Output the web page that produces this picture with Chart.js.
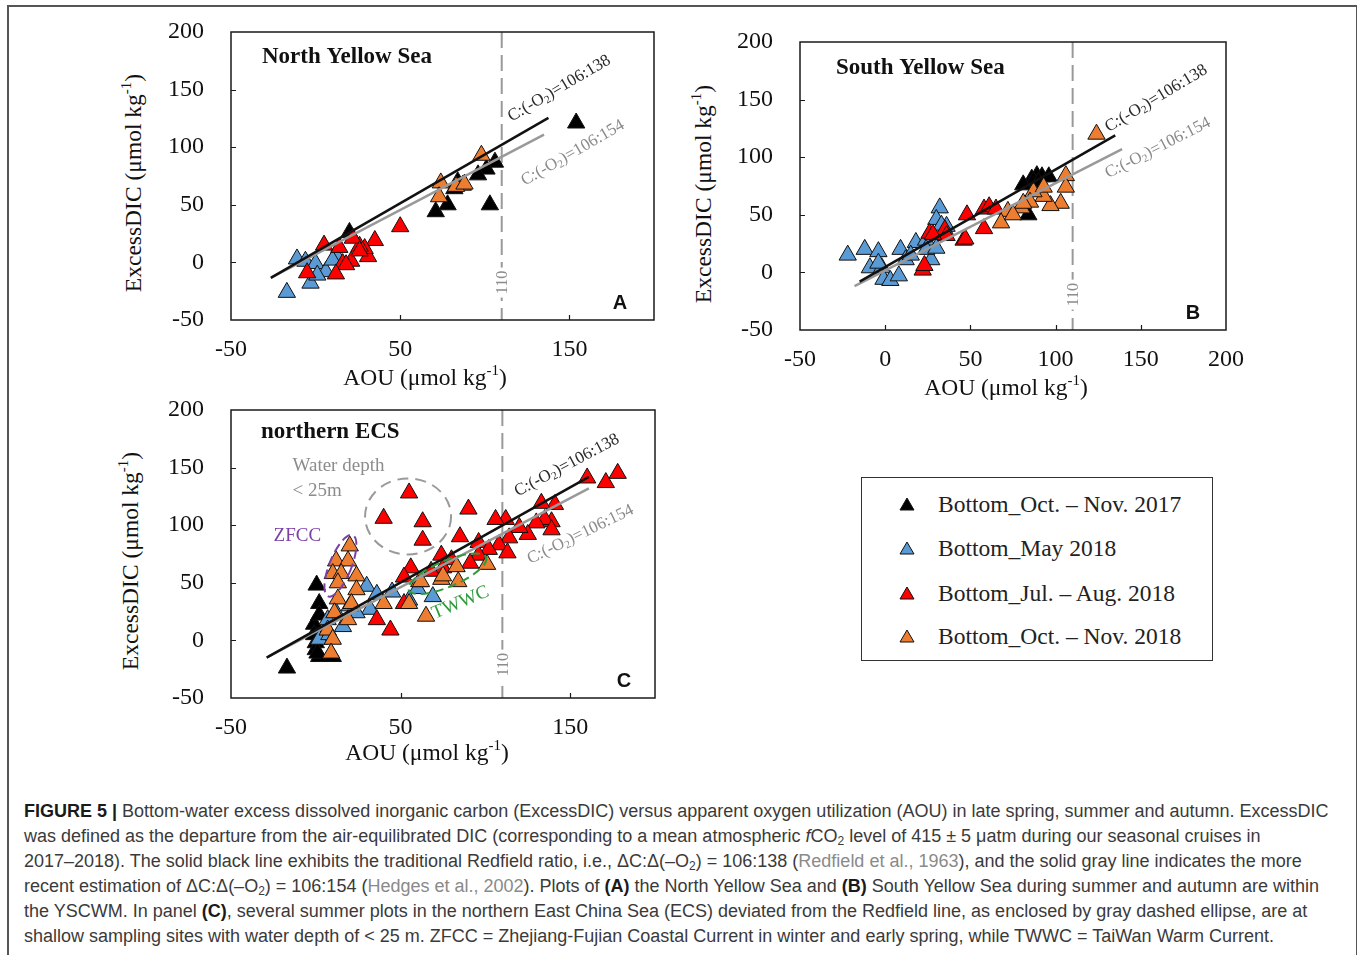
<!DOCTYPE html>
<html>
<head>
<meta charset="utf-8">
<script src="https://cdn.jsdelivr.net/npm/chart.js@4.4.1/dist/chart.umd.min.js"></script>
<style>
  body { margin:0; background:#fff; width:1357px; height:955px; overflow:hidden; position:relative; font-family:'Liberation Serif', 'Times New Roman', serif; }
  .frame { position:absolute; left:7px; top:5px; width:1347px; height:980px; border:2px solid #555; }
  .panel { position:absolute; }
  .xtitle { position:absolute; font-size:23.5px; color:#111; white-space:nowrap; transform:translate(-50%,-50%); }
  .ytitle { position:absolute; font-size:23.5px; color:#111; white-space:nowrap; transform:translate(-50%,-50%) rotate(-90deg); }
  .xtitle sup, .ytitle sup { font-size:15px; vertical-align:0; position:relative; top:-10px; }
  .legend { position:absolute; left:861px; top:477px; width:350px; height:182px; border:1.5px solid #333; }
  .legend .row { position:absolute; left:0; height:30px; display:flex; align-items:center; font-size:23.5px; color:#222; white-space:nowrap; }
  .legend svg { margin-left:37px; margin-right:23px; }
  .caption { position:absolute; left:24px; top:799px; font-family:'Liberation Sans', Arial, sans-serif; font-size:18px; color:#3a3a3a; }
  .caption div { height:25px; line-height:25px; white-space:nowrap; }
  .caption b { color:#1a1a1a; }
  .caption .ref { color:#8a8a8a; }
  .caption sub { font-size:12px; vertical-align:-3px; line-height:0; }
</style>
</head>
<body>
<div class="frame"></div>

<div class="panel" style="left:150px;top:16px;"><canvas id="nys" width="534" height="349"></canvas></div>
<div class="panel" style="left:719px;top:26px;"><canvas id="sys" width="537" height="349"></canvas></div>
<div class="panel" style="left:150px;top:394px;"><canvas id="necs" width="535" height="349"></canvas></div>

<div class="xtitle" style="left:425px;top:377px;">AOU (μmol kg<sup>-1</sup>)</div>
<div class="xtitle" style="left:1006px;top:387px;">AOU (μmol kg<sup>-1</sup>)</div>
<div class="xtitle" style="left:427px;top:752px;">AOU (μmol kg<sup>-1</sup>)</div>
<div class="ytitle" style="left:133px;top:183px;">ExcessDIC (μmol kg<sup>-1</sup>)</div>
<div class="ytitle" style="left:703px;top:194px;">ExcessDIC (μmol kg<sup>-1</sup>)</div>
<div class="ytitle" style="left:130px;top:561px;">ExcessDIC (μmol kg<sup>-1</sup>)</div>

<div class="legend" id="legend"></div>

<div class="caption">
  <div><b>FIGURE 5 |</b> Bottom-water excess dissolved inorganic carbon (ExcessDIC) versus apparent oxygen utilization (AOU) in late spring, summer and autumn. ExcessDIC</div>
  <div>was defined as the departure from the air-equilibrated DIC (corresponding to a mean atmospheric <i>f</i>CO<sub>2</sub> level of 415 ± 5 μatm during our seasonal cruises in</div>
  <div>2017–2018). The solid black line exhibits the traditional Redfield ratio, i.e., ΔC:Δ(–O<sub>2</sub>) = 106:138 (<span class="ref">Redfield et al., 1963</span>), and the solid gray line indicates the more</div>
  <div>recent estimation of ΔC:Δ(–O<sub>2</sub>) = 106:154 (<span class="ref">Hedges et al., 2002</span>). Plots of <b>(A)</b> the North Yellow Sea and <b>(B)</b> South Yellow Sea during summer and autumn are within</div>
  <div>the YSCWM. In panel <b>(C)</b>, several summer plots in the northern East China Sea (ECS) deviated from the Redfield line, as enclosed by gray dashed ellipse, are at</div>
  <div>shallow sampling sites with water depth of &lt; 25 m. ZFCC = Zhejiang-Fujian Coastal Current in winter and early spring, while TWWC = TaiWan Warm Current.</div>
</div>

<script>
// ---- Bottom-water samples: [AOU, ExcessDIC] in µmol kg-1 ----
// North Yellow Sea
const nysOct2017   = [[154,121],[106,87],[101,81],[96,76],[84,70],[82,64],[78,50],[71,44],[103,50],[20,26]];
const nysMay2018   = [[-17,-26],[-11,3],[-6,1],[0,-1],[-3,-18],[6,-8],[13,4],[1,-11],[10,2]];
const nysJulAug2018 = [[50,31],[35,19],[31,5],[29,12],[26,14],[22,21],[21,1],[16,-1],[18,-2],[14,13],[5,15],[12,-10],[-5,-9],[26,10]];
const nysOct2018   = [[98,93],[74,69],[73,57],[87,67],[83,66],[88,68]];

// South Yellow Sea
const sysOct2017   = [[89,84],[86,81],[92,83],[96,83],[84,50],[87,79],[81,76],[90,78]];
const sysMay2018   = [[-22,15],[-12,20],[-4,18],[-9,4],[-2,4],[-1,-6],[3,-7],[8,-3],[9,20],[12,11],[18,26],[24,28],[27,11],[24,20],[32,56],[30,46],[36,40],[30,21],[33,41],[15,15],[-4,8]];
const sysJulAug2018 = [[26,34],[22,2],[35,37],[46,28],[48,50],[58,55],[61,57],[58,38],[47,29],[36,32],[65,55],[23,6],[28,33]];
const sysOct2018   = [[124,120],[106,84],[106,74],[103,60],[97,58],[93,66],[87,70],[85,61],[80,56],[72,53],[68,43],[81,60],[93,74],[75,50]];

// northern East China Sea
const necsOct2017   = [[0.5,48],[2,32],[-1,14],[0,-2],[0,-8],[2,-14],[10,-14],[-17,-24],[2,22],[-1,5],[1,-11]];
const necsMay2018   = [[30,47],[45,42],[32,27],[24,24],[12,24],[16,12],[7,18],[69,38],[2,1],[60,45],[36,40],[20,30],[55,35],[8,5]];
const necsJulAug2018 = [[55,128],[40,106],[63,103],[63,87],[36,18],[44,9],[56,63],[52,32],[75,63],[52,55],[178,145],[171,137],[160,141],[141,118],[133,119],[139,103],[135,105],[139,96],[130,102],[125,92],[120,98],[112,105],[106,105],[90,114],[85,90],[114,89],[108,83],[113,76],[96,85],[102,79],[96,74],[91,67],[74,74],[80,70],[68,60]];
const necsOct2018   = [[20,82],[12,69],[19,69],[10,58],[15,58],[24,56],[13,50],[24,44],[13,36],[21,32],[40,32],[19,18],[11,24],[7,9],[10,1],[9,-11],[55,32],[65,21],[61,51],[74,53],[83,64],[101,66],[75,56],[62,51],[84,51]];

// ---- Reference ratio lines (end points) ----
const nysRedfield138  = [[-26.5,-13.4],[137.6,125.4]];
const nysHedges154    = [[-26,-13],[135,111]];
const sysRedfield138  = [[-15,-8],[135,119]];
const sysHedges154    = [[-18,-12],[139,107]];
const necsRedfield138 = [[-29,-15],[161,142]];
const necsHedges154   = [[-28,-14],[161,132]];

// ---- Axis ticks ----
const aouTicksWide = [-50, 50, 150];
const aouTicksFine = [-50, 0, 50, 100, 150, 200];
const dicTicks = [-50, 0, 50, 100, 150, 200];
const aouLimit = 110;

const seriesNames = ['Bottom_Oct. – Nov. 2017', 'Bottom_May 2018', 'Bottom_Jul. – Aug. 2018', 'Bottom_Oct. – Nov. 2018'];
const seriesFill  = ['#000000', '#5b9bd5', '#ff0000', '#ed7d31'];

const SERIF = "'Liberation Serif', 'Times New Roman', serif";
const SANS = "'Liberation Sans', Arial, sans-serif";

function pts(arr) { return arr.map(([x, y]) => ({ x, y })); }

function drawRatioLabel(ctx, cx, cy, angleDeg, ratio, color) {
  const big = '17px ' + SERIF, small = '11px ' + SERIF;
  const parts = [['C:(-O', big, 0], ['2', small, 4], [')=' + ratio, big, 0]];
  ctx.save();
  let total = 0;
  parts.forEach(p => { ctx.font = p[1]; total += ctx.measureText(p[0]).width; });
  ctx.translate(cx, cy);
  ctx.rotate(angleDeg * Math.PI / 180);
  ctx.fillStyle = color;
  ctx.textBaseline = 'middle';
  ctx.textAlign = 'left';
  let xo = -total / 2;
  parts.forEach(p => { ctx.font = p[1]; ctx.fillText(p[0], xo, p[2]); xo += ctx.measureText(p[0]).width; });
  ctx.restore();
}

function decoPlugin(d) {
  return {
    id: 'deco_' + d.letter,
    beforeDatasetsDraw(chart) {
      const { ctx, chartArea: a, scales: { x } } = chart;
      ctx.save();
      // AOU = 110 dashed marker
      const px = x.getPixelForValue(aouLimit);
      ctx.strokeStyle = '#999';
      ctx.lineWidth = 2;
      ctx.setLineDash([16, 7]);
      ctx.beginPath(); ctx.moveTo(px, a.top); ctx.lineTo(px, a.bottom); ctx.stroke();
      ctx.restore();
    },
    afterDatasetsDraw(chart) {
      const { ctx, chartArea: a, scales: { x, y } } = chart;
      ctx.save();
      // enclosing ellipses
      (d.ellipses || []).forEach(e => {
        ctx.strokeStyle = e.color;
        ctx.lineWidth = 2;
        ctx.setLineDash(e.dash);
        ctx.beginPath();
        ctx.ellipse(x.getPixelForValue(e.cx), y.getPixelForValue(e.cy), e.rx, e.ry, e.rot * Math.PI / 180, 0, Math.PI * 2);
        ctx.stroke();
      });
      ctx.setLineDash([]);

      // frame and inside tick marks
      ctx.strokeStyle = '#1a1a1a';
      ctx.lineWidth = 1.5;
      ctx.strokeRect(a.left, a.top, a.right - a.left, a.bottom - a.top);
      ctx.lineWidth = 1.2;
      ctx.beginPath();
      d.xTicks.forEach(v => { const p = Math.round(x.getPixelForValue(v)) + 0.5; if (p > a.left + 2 && p < a.right - 2) { ctx.moveTo(p, a.bottom); ctx.lineTo(p, a.bottom - 5); } });
      dicTicks.forEach(v => { const p = Math.round(y.getPixelForValue(v)) + 0.5; if (p > a.top + 2 && p < a.bottom - 2) { ctx.moveTo(a.left, p); ctx.lineTo(a.left + 5, p); } });
      ctx.stroke();

      // "110" label on the dashed marker
      const lx = x.getPixelForValue(aouLimit), ly = y.getPixelForValue(d.limitLabelY);
      ctx.fillStyle = '#fff';
      ctx.fillRect(lx - 8, ly - 15, 16, 30);
      ctx.translate(lx, ly);
      ctx.rotate(-Math.PI / 2);
      ctx.fillStyle = '#8c8c8c';
      ctx.font = '16px ' + SERIF;
      ctx.textAlign = 'center';
      ctx.textBaseline = 'middle';
      ctx.fillText('110', 0, 1);
      ctx.setTransform(1, 0, 0, 1, 0, 0);

      // ratio labels
      drawRatioLabel(ctx, x.getPixelForValue(d.blackLabel[0]), y.getPixelForValue(d.blackLabel[1]), d.blackLabel[2], '106:138', '#2a2a2a');
      drawRatioLabel(ctx, x.getPixelForValue(d.grayLabel[0]), y.getPixelForValue(d.grayLabel[1]), d.grayLabel[2], '106:154', '#8a8a8a');

      // extra annotations
      (d.notes || []).forEach(n => {
        ctx.save();
        ctx.translate(x.getPixelForValue(n.x), y.getPixelForValue(n.y));
        ctx.rotate((n.rot || 0) * Math.PI / 180);
        ctx.fillStyle = n.color;
        ctx.font = n.size + 'px ' + SERIF;
        ctx.textAlign = n.align || 'left';
        ctx.textBaseline = 'middle';
        ctx.fillText(n.text, 0, 0);
        ctx.restore();
      });

      // panel title and letter
      ctx.fillStyle = '#111';
      ctx.font = 'bold 23px ' + SERIF;
      ctx.textAlign = 'left';
      ctx.textBaseline = 'middle';
      ctx.fillText(d.title, a.left + d.titleDx, a.top + d.titleDy);
      ctx.font = 'bold 20px ' + SANS;
      ctx.textAlign = 'center';
      ctx.fillText(d.letter, a.right - d.letterDx, a.bottom - 17);
      ctx.restore();
    }
  };
}

function makePanel(id, series, redfield, hedges, d) {
  const datasets = [];
  [redfield, hedges].forEach((ln, i) => {
    datasets.push({
      data: pts(ln), showLine: true, pointRadius: 0, borderColor: i ? '#999999' : '#111111',
      borderWidth: 2.5, order: -1, fill: false
    });
  });
  series.forEach((s, i) => {
    datasets.push({
      label: seriesNames[i], data: pts(s), pointStyle: 'triangle', pointRadius: 10,
      backgroundColor: seriesFill[i], borderColor: '#111', borderWidth: 1, showLine: false,
      order: 3 - i
    });
  });
  new Chart(document.getElementById(id), {
    type: 'scatter',
    data: { datasets },
    options: {
      responsive: false, animation: false, events: [],
      layout: { padding: { left: 0, top: 16, right: 30, bottom: 0 } },
      plugins: { legend: { display: false }, tooltip: { enabled: false } },
      scales: {
        x: {
          type: 'linear', min: -50, max: 200,
          afterBuildTicks: s => { s.ticks = d.xTicks.map(v => ({ value: v })); },
          afterFit: s => { s.height = 45; s.paddingLeft = 0; s.paddingRight = 0; },
          grid: { display: false, drawTicks: false }, border: { display: false },
          ticks: { autoSkip: false, maxRotation: 0, padding: 15, color: '#111', font: { family: SERIF, size: 24 } }
        },
        y: {
          type: 'linear', min: -50, max: 200,
          afterBuildTicks: s => { s.ticks = dicTicks.map(v => ({ value: v })); },
          afterFit: s => { s.width = 81; s.paddingTop = 0; s.paddingBottom = 0; },
          grid: { display: false, drawTicks: false }, border: { display: false },
          ticks: { autoSkip: false, padding: 27, color: '#111', font: { family: SERIF, size: 24 } }
        }
      }
    },
    plugins: [decoPlugin(d)]
  });
}

makePanel('nys', [nysOct2017, nysMay2018, nysJulAug2018, nysOct2018], nysRedfield138, nysHedges154, {
  letter: 'A', title: 'North Yellow Sea', titleDx: 31, titleDy: 25, letterDx: 34,
  xTicks: aouTicksWide, limitLabelY: -17.5,
  blackLabel: [144, 151, -30.5], grayLabel: [152, 95, -30]
});
makePanel('sys', [sysOct2017, sysMay2018, sysJulAug2018, sysOct2018], sysRedfield138, sysHedges154, {
  letter: 'B', title: 'South Yellow Sea', titleDx: 36, titleDy: 26, letterDx: 33,
  xTicks: aouTicksFine, limitLabelY: -19.3,
  blackLabel: [159, 151, -31], grayLabel: [160, 108, -27]
});
makePanel('necs', [necsOct2017, necsMay2018, necsJulAug2018, necsOct2018], necsRedfield138, necsHedges154, {
  letter: 'C', title: 'northern ECS', titleDx: 30, titleDy: 22, letterDx: 31,
  xTicks: aouTicksWide, limitLabelY: -21,
  blackLabel: [148, 152, -28], grayLabel: [156, 92, -26],
  ellipses: [
    { cx: 54.4, cy: 107.6, rx: 43, ry: 38, rot: 0, color: '#9a9a9a', dash: [11, 7] },
    { cx: 14.5, cy: 64.8, rx: 11, ry: 33, rot: 22, color: '#7b3fa6', dash: [9, 5] },
    { cx: 77.6, cy: 57.9, rx: 42, ry: 13, rot: -23, color: '#2f9a3c', dash: [9, 5] }
  ],
  notes: [
    { text: 'Water depth', x: -13.7, y: 151.6, size: 19, color: '#8c8c8c' },
    { text: '< 25m', x: -13.7, y: 129.3, size: 19, color: '#8c8c8c' },
    { text: 'ZFCC', x: -24.9, y: 90.3, size: 19, color: '#7b3fa6' },
    { text: 'TWWC', x: 85.3, y: 32.7, size: 19, color: '#2f9a3c', rot: -23, align: 'center' }
  ]
});

// legend (series symbols and names)
const legend = document.getElementById('legend');
const rowTops = [11, 55, 100, 143];
seriesNames.forEach((name, i) => {
  const row = document.createElement('div');
  row.className = 'row';
  row.style.top = rowTops[i] + 'px';
  row.innerHTML = '<svg width="16" height="14" viewBox="0 0 16 14"><polygon points="8,1 15,13 1,13" fill="' + seriesFill[i] +
    '" stroke="#111" stroke-width="1"/></svg><span>' + name + '</span>';
  legend.appendChild(row);
});
</script>
</body>
</html>
